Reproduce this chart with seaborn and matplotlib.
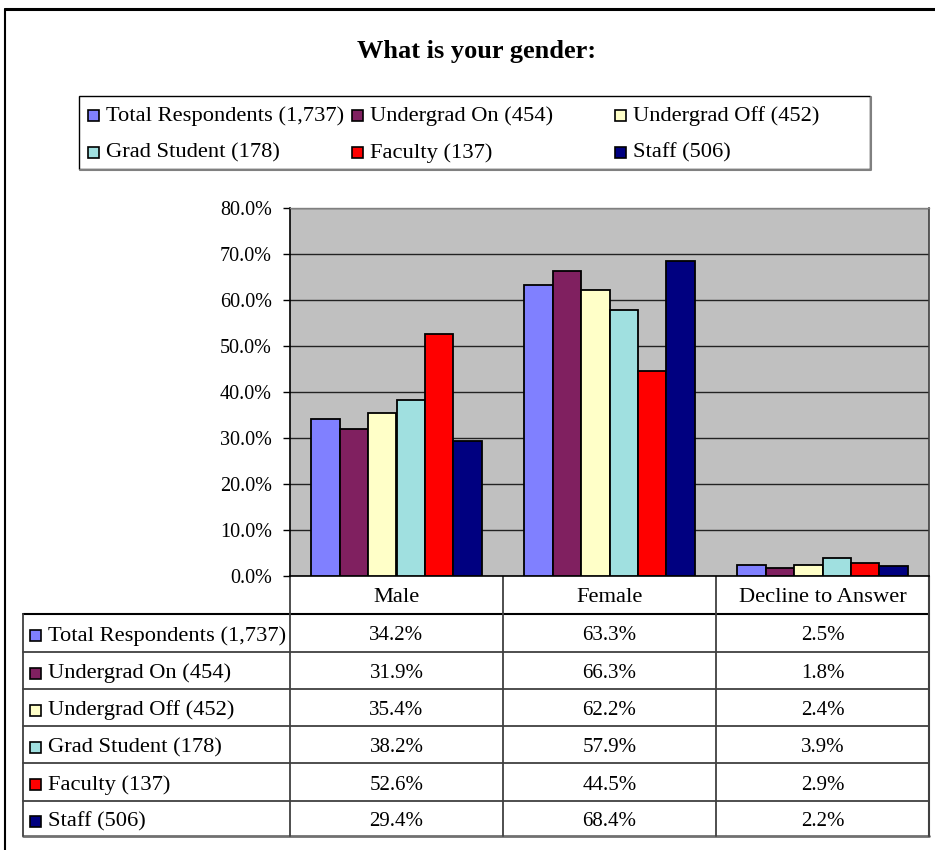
import numpy as np
import pandas as pd
import matplotlib
matplotlib.use("Agg")
import matplotlib.pyplot as plt
from matplotlib.patches import Rectangle
import seaborn as sns

# ---------------- data ----------------
title = "What is your gender:"
categories = ["Male", "Female", "Decline to Answer"]
groups = ["Total Respondents (1,737)", "Undergrad On (454)", "Undergrad Off (452)",
          "Grad Student (178)", "Faculty (137)", "Staff (506)"]
total_resp = [34.2, 63.3, 2.5]
undergrad_on = [31.9, 66.3, 1.8]
undergrad_off = [35.4, 62.2, 2.4]
grad_student = [38.2, 57.9, 3.9]
faculty = [52.6, 44.5, 2.9]
staff = [29.4, 68.4, 2.2]
series = [total_resp, undergrad_on, undergrad_off, grad_student, faculty, staff]
yticks = [0, 10, 20, 30, 40, 50, 60, 70, 80]
colors = ["#8080FF", "#802060", "#FFFFC8", "#A0E0E0", "#FF0000", "#000080"]

df = pd.DataFrame([
    {"Response": c, "Group": g, "Percent": v}
    for g, vals in zip(groups, series)
    for c, v in zip(categories, vals)
])

# ---------------- style ----------------
sns.set_style("white")
plt.rcParams["font.family"] = ["Liberation Serif", "DejaVu Serif"]
plt.rcParams["ytick.labelsize"] = 14.5
plt.rcParams["text.color"] = "black"
plt.rcParams["ytick.color"] = "black"
plt.rcParams["ytick.labelcolor"] = "black"

W, H = 935, 850
fig = plt.figure(figsize=(W / 100, H / 100), dpi=100)

# overlay axes in pixel coordinates for frame, legend, table
ov = fig.add_axes([0, 0, 1, 1], zorder=0)
ov.set_xlim(0, W)
ov.set_ylim(H, 0)
ov.axis("off")

# plot axes
PL, PR, PT, PB = 290, 929, 208, 576
ax = fig.add_axes([PL / W, 1 - PB / H, (PR - PL) / W, (PB - PT) / H], zorder=2)
ax.set_facecolor("#C0C0C0")
sns.barplot(data=df, x="Response", y="Percent", hue="Group", order=categories,
            hue_order=groups, palette=colors, saturation=1, edgecolor="black",
            linewidth=1.3, width=0.8, legend=False, ax=ax, zorder=3)
ax.set_xlim(-0.5, len(categories) - 0.5)
ax.set_ylim(0, 80)
ax.set_yticks(yticks)
ax.set_yticklabels([f"{v:.1f}%" for v in yticks])
ax.yaxis.grid(True, color="#222222", linewidth=1)
ax.set_axisbelow(True)
ax.tick_params(axis="y", length=5, width=1, color="black", direction="out", pad=8,
               left=True, labelsize=14.5, labelcolor="black")
ax.tick_params(axis="x", length=0, labelbottom=False, bottom=False)
ax.set_xlabel("")
ax.set_ylabel("")
for s in ["left", "bottom"]:
    ax.spines[s].set_color("black")
    ax.spines[s].set_linewidth(1.2)
ax.spines["top"].set_color("#808080")
ax.spines["top"].set_linewidth(1)
ax.spines["right"].set_color("#404040")
ax.spines["right"].set_linewidth(1.2)

# ---------------- outer frame ----------------
ov.plot([5, 935], [9, 9], color="black", lw=2.2)
ov.plot([5, 5], [9, 850], color="black", lw=1.5)

# ---------------- title ----------------
ov.text(477, 51, title, ha="center", va="center", fontsize=19, fontweight="bold",
        color="black")

# ---------------- legend ----------------
ov.add_patch(Rectangle((79, 96), 791, 73, facecolor="white", edgecolor="black", lw=1))
ov.plot([80, 871, 871], [170, 170, 97], color="#808080", lw=1.5)
leg_cols = [88, 352, 615]
leg_rows = [116, 153]
for i, (g, c) in enumerate(zip(groups, colors)):
    x = leg_cols[i % 3]
    y = leg_rows[i // 3]
    ov.add_patch(Rectangle((x, y - 6), 11, 11, facecolor=c, edgecolor="black", lw=1.2))
    ov.text(x + 18, y, g, ha="left", va="center", fontsize=16.2, color="black")

# ---------------- data table ----------------
col_x = [23, PL, 503, 716, PR]
row_y = [PB, 614, 652, 689, 726, 763, 801, 836]
# header row text
for j, cat in enumerate(categories):
    ov.text((col_x[j + 1] + col_x[j + 2]) / 2, (row_y[0] + row_y[1]) / 2 + 2, cat,
            ha="center", va="center", fontsize=16.2, color="black")
# horizontal lines
ov.plot([col_x[0], PR], [row_y[1], row_y[1]], color="black", lw=1.5)
for yy in row_y[2:-1]:
    ov.plot([col_x[0], PR], [yy, yy], color="#404040", lw=1.3)
ov.plot([col_x[0], PR], [row_y[-1], row_y[-1]], color="#707070", lw=2)
# vertical lines
ov.plot([col_x[0], col_x[0]], [row_y[1], row_y[-1]], color="#404040", lw=1.3)
for xx in col_x[1:4]:
    ov.plot([xx, xx], [row_y[0], row_y[-1]], color="#404040", lw=1.3)
ov.plot([PR, PR], [row_y[0], row_y[-1]], color="#404040", lw=1.5)
# rows
for i, (g, c, vals) in enumerate(zip(groups, colors, series)):
    yc = (row_y[i + 1] + row_y[i + 2]) / 2 + 3
    ov.add_patch(Rectangle((30, yc - 6), 11, 11, facecolor=c, edgecolor="black", lw=1.2))
    ov.text(48, yc, g, ha="left", va="center", fontsize=16.2, color="black")
    for j, v in enumerate(vals):
        ov.text((col_x[j + 1] + col_x[j + 2]) / 2, yc, f"{v:.1f}%",
                ha="center", va="center", fontsize=15, color="black")

fig.savefig("out.png", dpi=100, facecolor="white")
